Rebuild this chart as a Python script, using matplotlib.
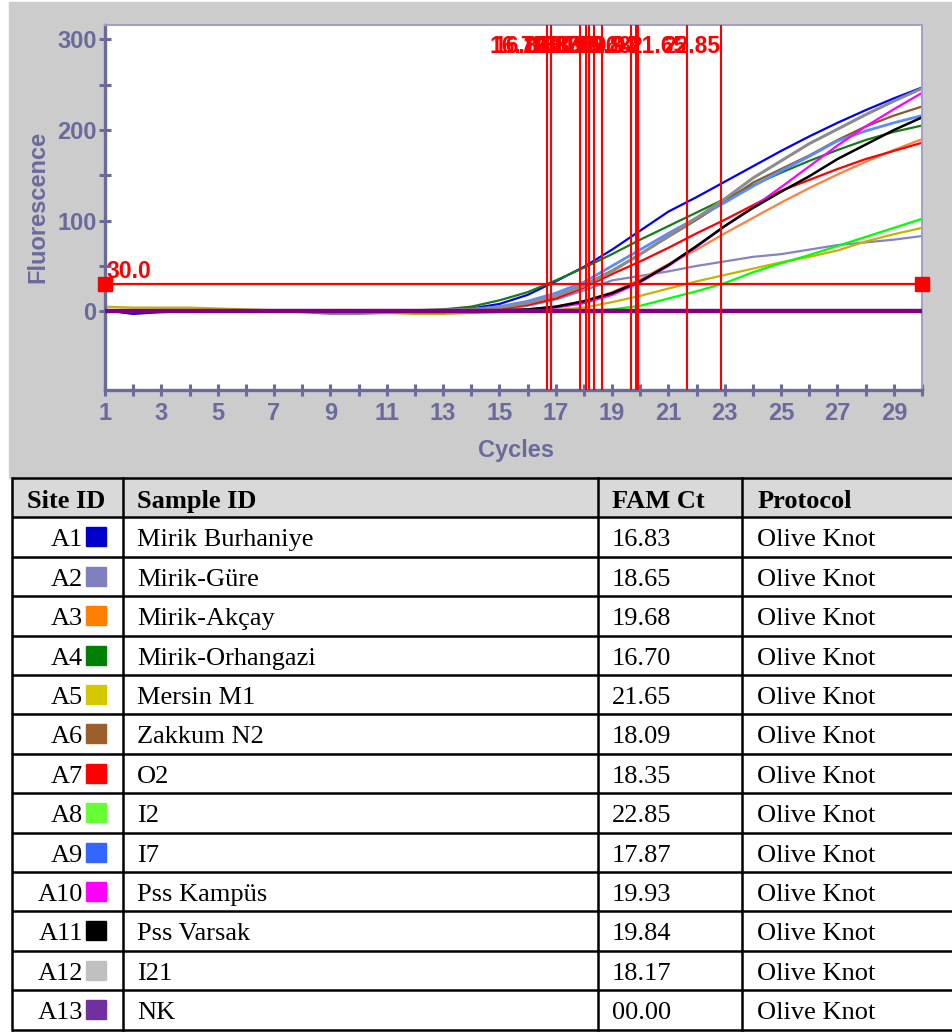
import numpy as np
import matplotlib
matplotlib.use('Agg')
import matplotlib.pyplot as plt
from matplotlib.patches import Rectangle

cycles = list(range(1, 31))

# fluorescence per cycle
a1_blue = [1, -3, -1, 0, 0, 0, 0, 0, -1, -1, 0, 0, 1, 3, 8, 18, 33, 49, 68, 89, 110, 126, 143, 160, 177, 193, 208, 222, 235, 247]
a2_lavender = [0, 0, 0, 0, 0, 0, 0, -1, -3, -3, -2, -1, 0, 1, 2, 6, 13, 23, 34, 39, 44, 50, 55, 60, 63, 68, 73, 76, 79, 83]
a3_orange = [1, 1, 1, 0, 0, 0, 0, 0, 0, 0, 0, 0, 0, 0, 1, 2, 5, 11, 21, 35, 52, 68, 86, 103, 120, 136, 151, 165, 178, 190]
a4_green = [1, 0, 0, 0, 0, 0, 0, 0, 0, 0, 0, 1, 2, 5, 12, 21, 34, 48, 63, 79, 94, 109, 124, 139, 153, 166, 178, 189, 198, 205]
a5_yellow = [5, 4, 4, 4, 3, 2, 1, 0, 0, -1, -2, -3, -3, -2, -1, 0, 1, 4, 10, 17, 25, 33, 40, 47, 54, 60, 67, 77, 85, 92]
a6_brown = [0, 0, 1, 1, 0, 0, 0, 0, -1, 0, 0, 0, 1, 2, 4, 9, 17, 29, 45, 63, 82, 101, 121, 142, 157, 172, 189, 204, 216, 226]
a7_red = [0, 0, 1, 1, 0, 0, 0, 0, 0, 0, 0, 0, 0, 1, 3, 7, 14, 26, 41, 55, 70, 86, 101, 117, 133, 145, 157, 168, 177, 186]
a8_lime = [0, 0, 0, 0, 0, 0, 0, 0, 0, 0, 0, 0, 0, 0, 0, 0, 0, 0, 2, 6, 14, 22, 31, 43, 53, 62, 72, 82, 92, 102]
a9_cornflower = [1, 0, 0, 0, 0, 0, 0, 0, -1, -1, 0, 0, 1, 2, 5, 11, 20, 32, 50, 68, 86, 103, 120, 138, 155, 171, 188, 199, 208, 216]
a10_magenta = [0, 0, 0, 0, 0, 0, 0, 0, 0, 0, 0, -1, -1, 0, 0, 1, 4, 9, 18, 32, 50, 71, 94, 115, 137, 160, 183, 204, 223, 241]
a11_black = [0, 0, 0, 0, 0, 0, 0, 0, 0, 0, 0, 0, 0, 0, 1, 2, 5, 11, 20, 33, 51, 72, 94, 114, 132, 149, 168, 184, 200, 214]
a12_gray = [0, 0, 1, 1, 0, 0, 0, 0, -1, -1, 0, 0, 1, 2, 4, 9, 17, 28, 44, 63, 83, 103, 124, 147, 166, 185, 201, 217, 232, 246]
a13_nk = [0, 0, 0, 0, 0, 0, 0, 0, 0, 0, 0, 0, 0, 0, 0, 0, 0, 0, 0, 0, 0, 0, 0, 0, 0, 0, 0, 0, 0, 0]

curves = [a1_blue, a2_lavender, a3_orange, a4_green, a5_yellow, a6_brown, a7_red,
          a8_lime, a9_cornflower, a10_magenta, a11_black, a12_gray]
line_colors = ['#0000ff', '#8484c4', '#ff8040', '#1a7a1a', '#c4b400', '#8b5a2b', '#ff0000',
               '#00ff00', '#5a8cff', '#ff00ff', '#000000', '#8c8c8c']
line_widths = [1.6, 1.6, 1.6, 1.6, 1.6, 1.6, 1.6, 1.6, 2.0, 1.6, 1.8, 2.2]

threshold = 30.0

site_ids = ['A1', 'A2', 'A3', 'A4', 'A5', 'A6', 'A7', 'A8', 'A9', 'A10', 'A11', 'A12', 'A13']
sample_ids = ['Mirik Burhaniye', 'Mirik-Güre', 'Mirik-Akçay', 'Mirik-Orhangazi', 'Mersin M1',
              'Zakkum N2', 'O2', 'I2', 'I7', 'Pss Kampüs', 'Pss Varsak', 'I21', 'NK']
fam_ct = ['16.83', '18.65', '19.68', '16.70', '21.65', '18.09', '18.35', '22.85', '17.87',
          '19.93', '19.84', '18.17', '00.00']
protocol = ['Olive Knot'] * 13
swatch_colors = ['#0000cc', '#8080c0', '#ff8000', '#008000', '#d4c800', '#9c5f2c', '#ff0000',
                 '#66ff33', '#3366ff', '#ff00ff', '#000000', '#c0c0c0', '#7030a0']

W, H = 952, 1032
axis_col = '#6a6a9c'
fig = plt.figure(figsize=(W / 100, H / 100), dpi=100)

# full-figure pixel axes for background and table
tab = fig.add_axes([0, 0, 1, 1])
tab.set_xlim(0, W)
tab.set_ylim(H, 0)
tab.axis('off')
tab.add_patch(Rectangle((9, 2), W - 9, 476, color='#cccccc', zorder=0))

row_h = 39.4
top = 478
tab.add_patch(Rectangle((12, top), W - 12, row_h, color='#d9d9d9', zorder=1))
n_rows = len(site_ids) + 1
for i in range(n_rows + 1):
    y = top + i * row_h
    tab.plot([12, W], [y, y], color='black', lw=1.8, zorder=3, solid_capstyle='butt')
for x in [12, 123, 598, 742]:
    tab.plot([x, x], [top, top + n_rows * row_h], color='black', lw=1.8, zorder=3)

serif = 'Liberation Serif'
fs = 19
hy = top + 30
tab.text(66, hy, 'Site ID', ha='center', va='baseline', fontsize=fs, fontweight='bold', family=serif)
tab.text(137, hy, 'Sample ID', ha='left', va='baseline', fontsize=fs, fontweight='bold', family=serif)
tab.text(612, hy, 'FAM Ct', ha='left', va='baseline', fontsize=fs, fontweight='bold', family=serif)
tab.text(758, hy, 'Protocol', ha='left', va='baseline', fontsize=fs, fontweight='bold', family=serif)
for i in range(len(site_ids)):
    rt = top + (i + 1) * row_h
    by = rt + 29
    tab.text(83, by, site_ids[i], ha='right', va='baseline', fontsize=fs, family=serif)
    tab.add_patch(Rectangle((86, rt + 10), 20, 19, color=swatch_colors[i], zorder=2))
    tab.text(137, by, sample_ids[i], ha='left', va='baseline', fontsize=fs, family=serif)
    tab.text(612, by, fam_ct[i], ha='left', va='baseline', fontsize=fs, family=serif)
    tab.text(757, by, protocol[i], ha='left', va='baseline', fontsize=fs, family=serif)

# amplification plot
ax = fig.add_axes([105 / W, 1 - 390 / H, (922 - 105) / W, (390 - 25) / H])
ax.set_facecolor('white')
for ys, c, lw in zip(curves, line_colors, line_widths):
    ax.plot(cycles, ys, color=c, lw=lw, zorder=2)
ax.plot(cycles, a13_nk, color='#800080', lw=3.2, zorder=3)

ax.axhline(threshold, color='#ff0000', lw=1.6, zorder=4)
ax.plot([1, 30], [threshold, threshold], 's', color='#ff0000', ms=10, clip_on=False, zorder=5)
ax.text(1.05, threshold + 7, '30.0', color='#ff0000', fontsize=16.5, fontweight='bold',
        family='Liberation Sans', ha='left', va='baseline')

for ct in fam_ct:
    v = float(ct)
    if v <= 0:
        continue
    ax.axvline(v, color='#ff0000', lw=1.5, zorder=4)
    ax.text(v, 0.94, f'{v:.2f}', color='#ff0000', fontsize=16.5, fontweight='bold',
            family='Liberation Sans', ha='right', va='center',
            transform=ax.get_xaxis_transform(), zorder=5)

ax.set_xlim(1, 30)
ax.set_ylim(-87, 316)
ax.set_xticks(range(1, 30, 2))
ax.set_xticks(range(2, 31, 2), minor=True)
ax.set_yticks([0, 100, 200, 300])
ax.set_yticks([50, 150, 250], minor=True)
ax.tick_params(which='both', direction='inout', length=8, width=2.2, color=axis_col,
               labelsize=17, labelcolor=axis_col)
ax.tick_params(axis='x', which='both', pad=5)
ax.tick_params(axis='y', which='both', pad=2)
for lab in ax.get_xticklabels() + ax.get_yticklabels():
    lab.set_fontweight('bold')
    lab.set_family('Liberation Sans')
for s in ['left', 'bottom']:
    ax.spines[s].set_color(axis_col)
    ax.spines[s].set_linewidth(2.4)
for s in ['top', 'right']:
    ax.spines[s].set_color('#a0a0c8')
    ax.spines[s].set_linewidth(1.4)

fig.text(38 / W, 1 - 207 / H, 'Fluorescence', rotation=90, ha='center', va='center',
         fontsize=17, fontweight='bold', color=axis_col, family='Liberation Sans')
fig.text(516 / W, 1 - 450 / H, 'Cycles', ha='center', va='center',
         fontsize=17, fontweight='bold', color=axis_col, family='Liberation Sans')

fig.savefig('out.png', dpi=100)
